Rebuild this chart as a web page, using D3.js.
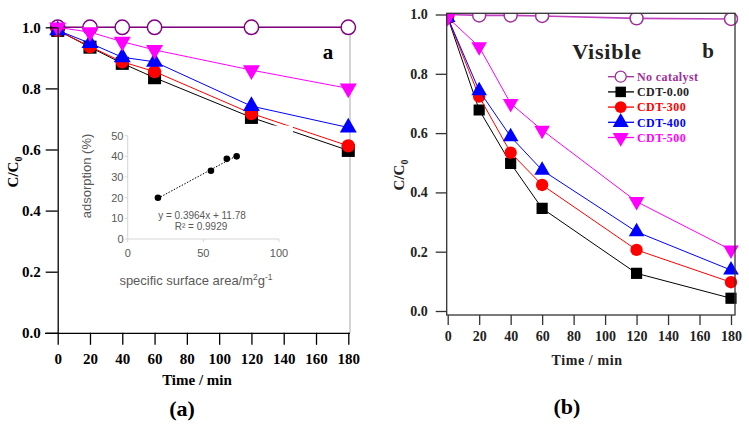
<!DOCTYPE html>
<html><head><meta charset="utf-8">
<script src="https://cdn.jsdelivr.net/npm/d3@7/dist/d3.min.js"></script>
<style>body{margin:0;background:#fff}svg{display:block}</style>
</head><body><svg id="c" width="749" height="426"></svg>
<script>
// ---------------- data ----------------
const times = [0, 20, 40, 60, 120, 180];
const seriesNames = ["No catalyst", "CDT-0.00", "CDT-300", "CDT-400", "CDT-500"];
// panel (a)
const aNoCat = [1.0, 1.0, 1.0, 1.0, 1.0, 1.0];
const a000 = [0.99, 0.935, 0.882, 0.835, 0.705, 0.597];
const a300 = [0.99, 0.937, 0.887, 0.855, 0.718, 0.612];
const a400 = [0.99, 0.948, 0.902, 0.887, 0.742, 0.672];
const a500 = [1.0, 0.984, 0.953, 0.926, 0.86, 0.80];
// panel (b)
const bNoCat = [1.0, 0.997, 0.997, 0.995, 0.987, 0.985];
const b000 = [0.99, 0.678, 0.498, 0.346, 0.127, 0.043];
const b300 = [0.99, 0.723, 0.534, 0.425, 0.206, 0.097];
const b400 = [0.99, 0.743, 0.588, 0.475, 0.267, 0.138];
const b500 = [0.99, 0.891, 0.70, 0.61, 0.369, 0.206];
const xTicks = [0, 20, 40, 60, 80, 100, 120, 140, 160, 180];
const yTicks = [0, 0.2, 0.4, 0.6, 0.8, 1.0];
// inset
const insetX = [20, 55, 65.5, 72];
const insetY = [20, 33, 38.8, 40];
const trendX = [20, 72];
const trendY = [19.7, 40.3];
const insetXTicks = [0, 50, 100];
const insetYTicks = [0, 10, 20, 30, 40, 50];
const eqText = "y = 0.3964x + 11.78";
const r2Text = "R² = 0.9929";

// ---------------- drawing ----------------
const svg = d3.select("#c");
const SERIF = "'Liberation Serif','Times New Roman',serif";
const SANS = "'Liberation Sans',Arial,sans-serif";

const styles = [
  {shape: "opencircle", stroke: "#800080"},
  {shape: d3.symbolSquare, fill: "#000000"},
  {shape: d3.symbolCircle, fill: "#ff0000"},
  {shape: d3.symbolTriangle, fill: "#0000ff"},
  {shape: d3.symbolTriangle, fill: "#ff00ff", rot: 180}
];

function drawPanel(g, x, y, series, opts) {
  series.forEach((vals, i) => {
    const st = styles[i];
    const col = i === 0 ? opts.noCatColor : st.fill;
    const pts = times.map((t, j) => [t, vals[j]]);
    g.append("path").datum(pts)
      .attr("fill", "none").attr("stroke", i === 0 ? opts.noCatLine : col)
      .attr("stroke-width", i === 0 ? 1.6 : 1)
      .attr("d", d3.line().x(d => x(d[0])).y(d => y(d[1])));
    const m = g.append("g");
    pts.forEach(d => {
      if (st.shape === "opencircle") {
        m.append("circle").attr("cx", x(d[0])).attr("cy", y(d[1]))
          .attr("r", opts.openR).attr("fill", "#fff")
          .attr("stroke", col).attr("stroke-width", 1.5);
      } else {
        const size = st.shape === d3.symbolTriangle ? opts.triSize :
                     (st.shape === d3.symbolSquare ? opts.sqSize : opts.cirSize);
        m.append("path").attr("d", d3.symbol().type(st.shape).size(size)())
          .attr("fill", col)
          .attr("transform", `translate(${x(d[0])},${y(d[1])}) rotate(${st.rot || 0})`);
      }
    });
  });
}

// ======== Panel (a) ========
{
  const x = d3.scaleLinear().domain([0, 180]).range([57.7, 348.3]);
  const y = d3.scaleLinear().domain([0, 1]).range([332.8, 27.3]);
  const g = svg.append("g");
  // right border
  g.append("line").attr("x1", 350).attr("x2", 350).attr("y1", 27.3).attr("y2", 332.8)
    .attr("stroke", "#b8b8b8").attr("stroke-width", 1.2);
  g.append("line").attr("x1", 57.7).attr("x2", 350).attr("y1", 27.3).attr("y2", 27.3)
    .attr("stroke", "#b8b8b8").attr("stroke-width", 1);

  drawPanel(g, x, y, [aNoCat, a000, a300, a400, a500],
    {noCatColor: "#800080", noCatLine: "#800080", openR: 7.2, sqSize: 170, cirSize: 140, triSize: 125});

  // axes
  const ax = g.append("g").attr("transform", "translate(0,332.8)")
    .call(d3.axisBottom(x).tickValues(xTicks).tickSize(12).tickSizeOuter(0).tickPadding(9));
  ax.select(".domain").attr("d", "M45,0.5H350");
  const ay = g.append("g").attr("transform", "translate(57.7,0)")
    .call(d3.axisLeft(y).tickValues(yTicks).tickSize(12).tickSizeOuter(0).tickPadding(5).tickFormat(d3.format(".1f")));
  [ax, ay].forEach(a => {
    a.selectAll("path,line").attr("stroke", "#000").attr("stroke-width", 1.3);
    a.selectAll("text").attr("font-family", SERIF).attr("font-weight", "bold")
      .attr("font-size", 15).attr("fill", "#000");
  });

  svg.append("text").attr("x", 197).attr("y", 385).attr("text-anchor", "middle")
    .attr("font-family", SERIF).attr("font-weight", "bold").attr("font-size", 15).text("Time / min");
  const yl = svg.append("text").attr("transform", "translate(18,172) rotate(-90)")
    .attr("text-anchor", "middle").attr("font-family", SERIF).attr("font-weight", "bold").attr("font-size", 15);
  yl.append("tspan").text("C/C");
  yl.append("tspan").attr("font-size", 10).attr("dy", 4).text("0");
  svg.append("text").attr("x", 328).attr("y", 59).attr("text-anchor", "middle")
    .attr("font-family", SERIF).attr("font-weight", "bold").attr("font-size", 21).text("a");
  svg.append("text").attr("x", 182).attr("y", 416).attr("text-anchor", "middle")
    .attr("font-family", SERIF).attr("font-weight", "bold").attr("font-size", 22).text("(a)");

  // ---- inset ----
  const ig = svg.append("g");
  ig.append("rect").attr("x", 96).attr("y", 125.6).attr("width", 197).attr("height", 165).attr("fill", "#fff");
  const ix = d3.scaleLinear().domain([0, 100]).range([127.7, 279]);
  const iy = d3.scaleLinear().domain([0, 50]).range([239, 135.7]);
  const gray = "#d6d6d6", tgray = "#595959";
  ig.append("line").attr("x1", ix(0)).attr("x2", ix(100)).attr("y1", iy(0)).attr("y2", iy(0)).attr("stroke", gray);
  ig.append("line").attr("x1", ix(0)).attr("x2", ix(0)).attr("y1", iy(0)).attr("y2", iy(50)).attr("stroke", gray);
  insetXTicks.forEach(t => {
    ig.append("line").attr("x1", ix(t)).attr("x2", ix(t)).attr("y1", iy(0)).attr("y2", iy(0) + 3).attr("stroke", gray);
    ig.append("text").attr("x", ix(t)).attr("y", 257).attr("text-anchor", "middle")
      .attr("font-family", SANS).attr("font-size", 11).attr("fill", tgray).text(t);
  });
  insetYTicks.forEach(t => {
    ig.append("line").attr("x1", ix(0) - 3).attr("x2", ix(0)).attr("y1", iy(t)).attr("y2", iy(t)).attr("stroke", gray);
    ig.append("text").attr("x", 123.5).attr("y", iy(t) + 4).attr("text-anchor", "end")
      .attr("font-family", SANS).attr("font-size", 11).attr("fill", tgray).text(t);
  });
  ig.append("path").datum(trendX.map((v, i) => [v, trendY[i]]))
    .attr("fill", "none").attr("stroke", "#000").attr("stroke-width", 1).attr("stroke-dasharray", "1.5,1.5")
    .attr("d", d3.line().x(d => ix(d[0])).y(d => iy(d[1])));
  insetX.forEach((v, i) => {
    ig.append("circle").attr("cx", ix(v)).attr("cy", iy(insetY[i])).attr("r", 3.3).attr("fill", "#000");
  });
  ig.append("text").attr("x", 202).attr("y", 218.5).attr("text-anchor", "middle")
    .attr("font-family", SANS).attr("font-size", 10).attr("fill", tgray).text(eqText);
  ig.append("text").attr("x", 201).attr("y", 230).attr("text-anchor", "middle")
    .attr("font-family", SANS).attr("font-size", 10).attr("fill", tgray).text(r2Text);
  const ixl = ig.append("text").attr("x", 196).attr("y", 284.5).attr("text-anchor", "middle")
    .attr("font-family", SANS).attr("font-size", 13).attr("fill", tgray);
  ixl.append("tspan").text("specific surface area/m");
  ixl.append("tspan").attr("font-size", 8.5).attr("dy", -5).text("2");
  ixl.append("tspan").attr("dy", 5).text("g");
  ixl.append("tspan").attr("font-size", 8.5).attr("dy", -5).text("-1");
  ig.append("text").attr("transform", "translate(91,176) rotate(-90)").attr("text-anchor", "middle")
    .attr("font-family", SANS).attr("font-size", 13).attr("fill", tgray).text("adsorption (%)");
}

// ======== Panel (b) ========
{
  const x = d3.scaleLinear().domain([0, 180]).range([447.7, 731]);
  const y = d3.scaleLinear().domain([0, 1]).range([311, 14.5]);
  const frame = {x0: 446.7, x1: 735, y0: 13.3, y1: 315};
  svg.append("defs").append("clipPath").attr("id", "clipb").append("rect")
    .attr("x", frame.x0).attr("y", frame.y0).attr("width", frame.x1 - frame.x0 + 8).attr("height", frame.y1 - frame.y0);
  const g = svg.append("g").attr("clip-path", "url(#clipb)");
  styles[0].stroke = "#a0309a";
  drawPanel(g, x, y, [bNoCat, b000, b300, b400, b500],
    {noCatColor: "#a0309a", noCatLine: "#c040c0", openR: 6.5, sqSize: 125, cirSize: 120, triSize: 105});
  svg.append("rect").attr("x", frame.x0).attr("y", frame.y0)
    .attr("width", frame.x1 - frame.x0).attr("height", frame.y1 - frame.y0)
    .attr("fill", "none").attr("stroke", "#333").attr("stroke-width", 1.3);

  const ax = svg.append("g").attr("transform", `translate(0,${frame.y1})`)
    .call(d3.axisBottom(x).tickValues(xTicks).tickSize(10).tickSizeOuter(0).tickPadding(6));
  ax.select(".domain").remove();
  const ay = svg.append("g").attr("transform", `translate(${frame.x0},0)`)
    .call(d3.axisLeft(y).tickValues(yTicks).tickSize(11).tickSizeOuter(0).tickPadding(8).tickFormat(d3.format(".1f")));
  ay.select(".domain").remove();
  [ax, ay].forEach(a => {
    a.selectAll("line").attr("stroke", "#333").attr("stroke-width", 1.3);
    a.selectAll("text").attr("font-family", SERIF).attr("font-weight", "bold")
      .attr("font-size", 14).attr("fill", "#222");
  });
  svg.append("text").attr("x", 587).attr("y", 365).attr("text-anchor", "middle")
    .attr("font-family", SERIF).attr("font-weight", "bold").attr("font-size", 14)
    .attr("letter-spacing", 0.6).attr("fill", "#222").text("Time / min");
  const yl = svg.append("text").attr("transform", "translate(404,175) rotate(-90)")
    .attr("text-anchor", "middle").attr("font-family", SERIF).attr("font-weight", "bold").attr("font-size", 15).attr("fill", "#222");
  yl.append("tspan").text("C/C");
  yl.append("tspan").attr("font-size", 10).attr("dy", 4).text("0");
  svg.append("text").attr("x", 607).attr("y", 59).attr("text-anchor", "middle")
    .attr("font-family", SERIF).attr("font-weight", "bold").attr("font-size", 22)
    .attr("letter-spacing", 0.8).attr("fill", "#222").text("Visible");
  svg.append("text").attr("x", 708).attr("y", 58).attr("text-anchor", "middle")
    .attr("font-family", SERIF).attr("font-weight", "bold").attr("font-size", 21).attr("fill", "#222").text("b");
  svg.append("text").attr("x", 567).attr("y", 414).attr("text-anchor", "middle")
    .attr("font-family", SERIF).attr("font-weight", "bold").attr("font-size", 22).text("(b)");

  // legend
  const legCols = ["#a0309a", "#000000", "#ff0000", "#0000ff", "#ff00ff"];
  const lg = svg.append("g");
  seriesNames.forEach((name, i) => {
    const ly = 76.7 + i * 15.2;
    const st = styles[i];
    lg.append("line").attr("x1", 608).attr("x2", 634).attr("y1", ly).attr("y2", ly)
      .attr("stroke", legCols[i]).attr("stroke-width", 1.3);
    if (st.shape === "opencircle") {
      lg.append("circle").attr("cx", 620.7).attr("cy", ly).attr("r", 5.5)
        .attr("fill", "#fff").attr("stroke", legCols[i]).attr("stroke-width", 1.3);
    } else {
      const size = st.shape === d3.symbolTriangle ? 110 : (st.shape === d3.symbolSquare ? 110 : 110);
      lg.append("path").attr("d", d3.symbol().type(st.shape).size(size)())
        .attr("fill", legCols[i])
        .attr("transform", `translate(620.7,${ly}) rotate(${st.rot || 0})`);
    }
    lg.append("text").attr("x", 637).attr("y", ly + 4.2)
      .attr("font-family", SERIF).attr("font-weight", "bold").attr("font-size", 12)
      .attr("letter-spacing", 0.4).attr("fill", legCols[i] === "#000000" ? "#222" : legCols[i]).text(name);
  });
}
</script></body></html>
